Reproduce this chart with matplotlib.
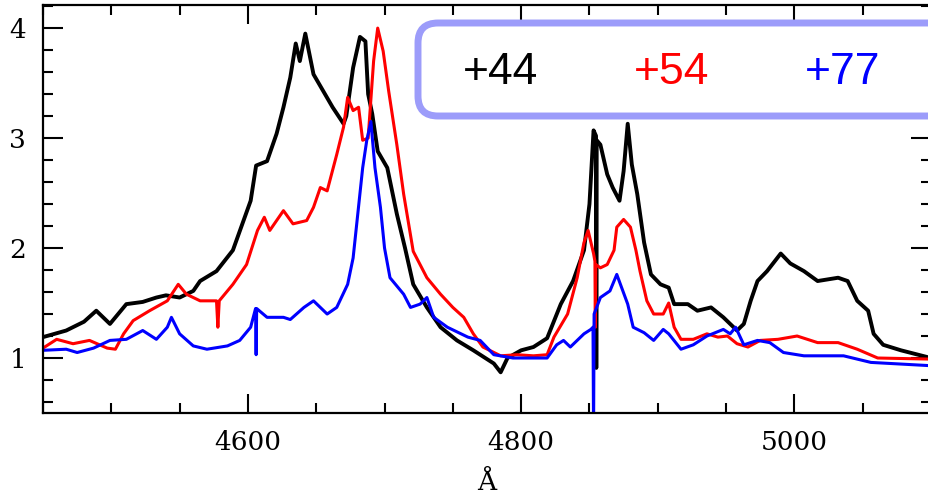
import matplotlib
matplotlib.use("Agg")
import matplotlib.pyplot as plt
from matplotlib.patches import FancyBboxPatch
from matplotlib.ticker import MultipleLocator

# ---------------------------------------------------------------
# Espectros: lambda [A] y flujo normalizado
# ---------------------------------------------------------------
wl_44 = [4450, 4467, 4480, 4489, 4499, 4511, 4523, 4533, 4540, 4550, 4560, 4565,
         4577, 4589, 4602, 4606, 4614, 4621, 4626, 4631, 4635, 4638, 4642, 4648,
         4655, 4662, 4670, 4672, 4677, 4682, 4686, 4688, 4691, 4695, 4702, 4709,
         4715, 4721, 4731, 4741, 4753, 4765, 4780, 4785, 4790, 4800, 4809, 4819,
         4829, 4838, 4846, 4850, 4853, 4854.8, 4855.0, 4855.3, 4858, 4863, 4867,
         4872, 4875, 4878, 4881, 4885, 4890, 4895, 4902, 4908, 4912, 4922, 4929,
         4939, 4948, 4958, 4963, 4968, 4973, 4980, 4990, 4997, 5007, 5017, 5032,
         5039, 5046, 5054, 5058, 5065, 5078, 5100]
fx_44 = [1.19, 1.25, 1.33, 1.43, 1.31, 1.49, 1.51, 1.55, 1.57, 1.55, 1.61, 1.70,
         1.79, 1.98, 2.43, 2.75, 2.79, 3.04, 3.28, 3.55, 3.86, 3.70, 3.95, 3.58,
         3.43, 3.28, 3.13, 3.20, 3.64, 3.92, 3.88, 3.40, 3.22, 2.88, 2.73, 2.31,
         2.00, 1.67, 1.46, 1.28, 1.16, 1.07, 0.95, 0.87, 1.00, 1.07, 1.10, 1.18,
         1.49, 1.70, 1.98, 2.40, 3.07, 3.02, 0.91, 2.98, 2.94, 2.67, 2.55,
         2.43, 2.70, 3.13, 2.76, 2.49, 2.05, 1.76, 1.67, 1.64, 1.49, 1.49, 1.43,
         1.46, 1.37, 1.25, 1.31, 1.52, 1.70, 1.79, 1.95, 1.86, 1.79, 1.70, 1.73,
         1.70, 1.52, 1.43, 1.22, 1.12, 1.07, 1.00]

wl_54 = [4450, 4460, 4472, 4484, 4497, 4503, 4509, 4516, 4528, 4541, 4549, 4555,
         4565, 4577, 4578, 4579, 4589, 4599, 4607, 4612, 4616, 4626, 4633, 4643,
         4648, 4653, 4658, 4665, 4670, 4673, 4677, 4681, 4684, 4688, 4692, 4695,
         4699, 4703, 4709, 4714, 4721, 4731, 4741, 4750, 4758, 4765, 4772, 4785,
         4797, 4809, 4819, 4824, 4834, 4841, 4846, 4849, 4853, 4854.0, 4854.3,
         4854.6, 4858, 4863, 4868, 4870, 4875, 4880, 4884, 4887, 4892, 4897, 4904,
         4908, 4912, 4917, 4926, 4936, 4944, 4951, 4958, 4966, 4975, 4988, 5002,
         5017, 5032, 5046, 5061, 5100]
fx_54 = [1.09, 1.17, 1.13, 1.16, 1.09, 1.08, 1.22, 1.34, 1.43, 1.52, 1.67, 1.58,
         1.52, 1.52, 1.28, 1.52, 1.67, 1.85, 2.16, 2.28, 2.16, 2.34, 2.22, 2.25,
         2.37, 2.55, 2.52, 2.85, 3.10, 3.37, 3.25, 3.28, 2.98, 3.00, 3.70, 4.00,
         3.79, 3.43, 2.94, 2.49, 1.97, 1.73, 1.58, 1.46, 1.37, 1.22, 1.10, 1.02,
         1.03, 1.02, 1.03, 1.19, 1.40, 1.73, 2.05, 2.16, 1.95, 1.88, 1.28,
         1.85, 1.82, 1.85, 1.98, 2.19, 2.26, 2.19, 1.98, 1.79, 1.52, 1.40, 1.40,
         1.50, 1.28, 1.17, 1.17, 1.22, 1.19, 1.20, 1.13, 1.10, 1.16, 1.17, 1.20,
         1.14, 1.14, 1.08, 1.00, 0.99]

wl_77 = [4450, 4467, 4475, 4487, 4499, 4511, 4523, 4533, 4541, 4544, 4550, 4560,
         4570, 4585, 4594, 4602, 4605.6, 4606.0, 4606.4, 4614, 4626, 4631, 4641,
         4648, 4658, 4665, 4673, 4677, 4684, 4687, 4690, 4693, 4697, 4700, 4704,
         4714, 4719, 4726, 4731, 4736, 4746, 4761, 4770, 4780, 4794, 4809, 4819,
         4826, 4831, 4836, 4846, 4851, 4852.6, 4853.0, 4853.4, 4858, 4865, 4870,
         4878, 4882, 4890, 4897, 4904, 4908, 4917, 4926, 4936, 4948, 4953, 4957,
         4963, 4973, 4982, 4992, 5007, 5021, 5036, 5056, 5100]
fx_77 = [1.07, 1.08, 1.05, 1.09, 1.16, 1.17, 1.25, 1.17, 1.28, 1.37, 1.22, 1.11,
         1.08, 1.11, 1.16, 1.28, 1.45, 1.03, 1.45, 1.37, 1.37, 1.35, 1.46,
         1.52, 1.40, 1.46, 1.67, 1.91, 2.73, 2.98, 3.15, 2.73, 2.37, 2.00, 1.73,
         1.58, 1.46, 1.49, 1.55, 1.37, 1.28, 1.19, 1.16, 1.03, 1.00, 1.00, 1.00,
         1.12, 1.16, 1.10, 1.22, 1.26, 1.28, 0.30, 1.40, 1.55, 1.61, 1.76,
         1.49, 1.28, 1.23, 1.16, 1.26, 1.22, 1.08, 1.12, 1.20, 1.26, 1.22, 1.28,
         1.12, 1.16, 1.14, 1.05, 1.02, 1.02, 1.02, 0.96, 0.93]

labels = ["+44", "+54", "+77"]
colores = ["black", "red", "blue"]

W, H = 929, 497
fig = plt.figure(figsize=(W / 100, H / 100), dpi=100)
ax = fig.add_axes([43 / W, (H - 413) / H, (931 - 43) / W, (413 - 5) / H])

ax.plot(wl_44, fx_44, color="black", lw=2.8)
ax.plot(wl_54, fx_54, color="red", lw=2.2)
ax.plot(wl_77, fx_77, color="blue", lw=2.2)

ax.set_xlim(4450, 5100)
ax.set_ylim(0.5, 4.21)
ax.xaxis.set_major_locator(MultipleLocator(200))
ax.xaxis.set_minor_locator(MultipleLocator(50))
ax.yaxis.set_major_locator(MultipleLocator(1))
ax.yaxis.set_minor_locator(MultipleLocator(0.2))
ax.tick_params(which="both", direction="in", top=True, right=True, width=1.5,
               labelsize=19, pad=12)
ax.tick_params(axis="x", which="major", length=14)
ax.tick_params(axis="x", which="minor", length=7)
ax.tick_params(axis="y", which="major", length=14.5)
ax.tick_params(axis="y", which="minor", length=7.2)
for lab in ax.get_xticklabels() + ax.get_yticklabels():
    lab.set_family("DejaVu Serif")
for sp in ax.spines.values():
    sp.set_linewidth(1.6)
ax.set_xlabel("Å", fontsize=19, family="DejaVu Serif", labelpad=11)

# caja de leyenda redondeada (se sale por la derecha, como en el original)
caja = FancyBboxPatch((418, H - 116), 620, 93, boxstyle="round,pad=0,rounding_size=20",
                      transform=None, facecolor="white", edgecolor="#9c9cfa",
                      lw=5, clip_on=False, zorder=5)
fig.patches.append(caja)
for lab, col, xc in zip(labels, colores, [501, 672, 843]):
    fig.text(xc / W, (H - 72) / H, lab, color=col, ha="center", va="center",
             fontsize=32, family="Liberation Sans", zorder=6)

fig.savefig("out.png", dpi=100)
